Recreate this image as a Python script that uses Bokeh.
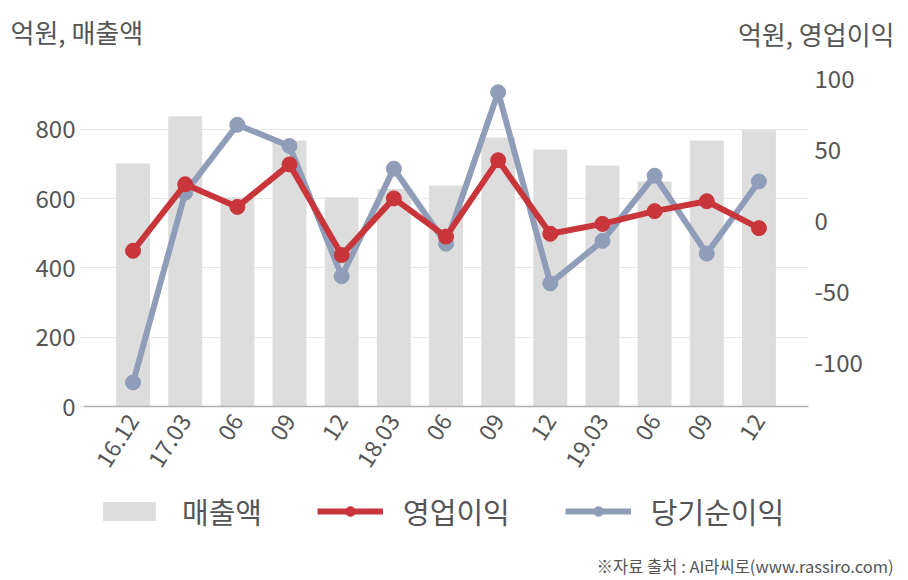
from bokeh.plotting import figure
from bokeh.models import Range1d, LinearAxis, FixedTicker, Legend, LegendItem, Label, ColumnDataSource
from bokeh.embed import file_html
from bokeh.resources import INLINE

# ---- data ----
quarters = ["16.12", "17.03", "06", "09", "12", "18.03", "06", "09", "12", "19.03", "06", "09", "12"]
sales = [702, 838, 604, 768, 604, 628, 638, 777, 742, 696, 650, 768, 799]          # 매출액 (left axis)
op_profit = [-21, 26, 10, 40, -24, 16, -11, 43, -9, -2, 7, 14, -5]                  # 영업이익 (right axis)
net_profit = [-114, 20, 68, 53, -39, 37, -16, 91, -44, -14, 32, -23, 28]            # 당기순이익 (right axis)
left_ticks = [0, 200, 400, 600, 800]
right_ticks = [-100, -50, 0, 50, 100]
series_names = ["매출액", "영업이익", "당기순이익"]
left_unit = "억원, 매출액"
right_unit = "억원, 영업이익"
source_note = "※자료 출처 : AI라씨로(www.rassiro.com)"

FONT = "Noto Sans CJK KR"
RED = "#c8353a"
BLUE = "#8f9db8"
GRAY = "#dddddd"
TXT = "#555555"
W = 908
TOP_H = 60
MAIN_H = 420
BOT_H = 580 - TOP_H - MAIN_H


def blank(height):
    f = figure(width=W, height=height, output_backend="svg", toolbar_location=None,
               x_range=Range1d(0, W), y_range=Range1d(height, 0),
               x_axis_location=None, y_axis_location=None,
               min_border=0, min_border_left=0, min_border_right=0, min_border_top=0, min_border_bottom=0)
    f.outline_line_color = None
    f.xgrid.visible = False
    f.ygrid.visible = False
    return f


xs = list(range(len(quarters)))
src = ColumnDataSource(dict(x=xs, sales=sales, op=op_profit, net=net_profit))

# ---- top strip with unit labels ----
top = blank(TOP_H)
top.add_layout(Label(x=10, y=31, text=left_unit, text_font=FONT, text_font_size="26px",
                     text_color=TXT, text_baseline="middle", text_align="left"))
top.add_layout(Label(x=894, y=33, text=right_unit, text_font=FONT, text_font_size="26px",
                     text_color=TXT, text_baseline="middle", text_align="right"))

# ---- main chart ----
p = figure(width=W, height=MAIN_H, output_backend="svg", toolbar_location=None,
           x_range=Range1d(-0.95, len(quarters) - 0.05), y_range=Range1d(0, 950),
           min_border_left=83, min_border_right=100, min_border_top=17,
           min_border_bottom=MAIN_H - 17 - 329)
p.outline_line_color = None
p.extra_y_ranges = {"profit": Range1d(-131, 101.4)}

p.vbar(x="x", top="sales", width=0.65, source=src, fill_color=GRAY, line_color=None)
p.line(x="x", y="net", source=src, line_color=BLUE, line_width=6, y_range_name="profit")
p.scatter(x="x", y="net", source=src, size=15, fill_color=BLUE, line_color=BLUE, y_range_name="profit")
p.line(x="x", y="op", source=src, line_color=RED, line_width=6, y_range_name="profit")
p.scatter(x="x", y="op", source=src, size=15, fill_color=RED, line_color=RED, y_range_name="profit")

p.xgrid.visible = False
p.ygrid.ticker = FixedTicker(ticks=left_ticks)
p.ygrid.grid_line_color = "#e8e8e8"
p.ygrid.grid_line_width = 1

la = p.yaxis[0]
la.ticker = FixedTicker(ticks=left_ticks)
la.axis_line_color = None
la.major_tick_out = 4
la.major_tick_in = 0
la.major_tick_line_color = "#e0e0e0"
la.minor_tick_line_color = None
la.major_label_standoff = 4
la.major_label_text_font = FONT
la.major_label_text_font_size = "24px"
la.major_label_text_color = TXT

ra = LinearAxis(y_range_name="profit", ticker=FixedTicker(ticks=right_ticks))
ra.major_label_overrides = {t: str(t) for t in right_ticks}
ra.axis_line_color = None
ra.major_tick_line_color = None
ra.minor_tick_line_color = None
ra.major_tick_out = 0
ra.major_label_standoff = 6
ra.major_label_text_font = FONT
ra.major_label_text_font_size = "24px"
ra.major_label_text_color = TXT
p.add_layout(ra, "right")

xa = p.xaxis[0]
xa.ticker = FixedTicker(ticks=xs)
xa.major_label_overrides = {i: q for i, q in enumerate(quarters)}
xa.major_label_orientation = 1.0
xa.axis_line_color = "#b0b0b0"
xa.axis_line_width = 1.5
xa.major_tick_line_color = None
xa.minor_tick_line_color = None
xa.major_tick_out = 0
xa.major_label_standoff = 10
xa.major_label_text_font = FONT
xa.major_label_text_font_size = "23px"
xa.major_label_text_color = TXT

# ---- bottom strip: legend and source ----
bot = blank(BOT_H)
# hidden stand-ins that carry the series styles for the legend keys
kb = bot.vbar(x="x", top="sales", width=0.65, source=src, fill_color=GRAY, line_color=None, visible=False)
kol = bot.line(x="x", y="op", source=src, line_color=RED, line_width=6, visible=False)
kos = bot.scatter(x="x", y="op", source=src, size=15, fill_color=RED, line_color=RED, visible=False)
knl = bot.line(x="x", y="net", source=src, line_color=BLUE, line_width=6, visible=False)
kns = bot.scatter(x="x", y="net", source=src, size=15, fill_color=BLUE, line_color=BLUE, visible=False)

legend = Legend(items=[
    LegendItem(label=series_names[0], renderers=[kb]),
    LegendItem(label=series_names[1], renderers=[kol, kos]),
    LegendItem(label=series_names[2], renderers=[knl, kns]),
], orientation="horizontal", location=(96, 48))
legend.glyph_width = 66
legend.glyph_height = 24
legend.label_standoff = 20
legend.spacing = 55
legend.padding = 0
legend.margin = 0
legend.border_line_color = None
legend.background_fill_alpha = 0
legend.inactive_fill_alpha = 0
legend.label_text_font = FONT
legend.label_text_font_size = "29px"
legend.label_text_color = TXT
legend.label_height = 24
bot.add_layout(legend, "center")

bot.add_layout(Label(x=893, y=85, text=source_note, text_font=FONT, text_font_size="16.5px",
                     text_color=TXT, text_baseline="middle", text_align="right"))

open("out.html", "w").write(file_html([top, p, bot], INLINE))
